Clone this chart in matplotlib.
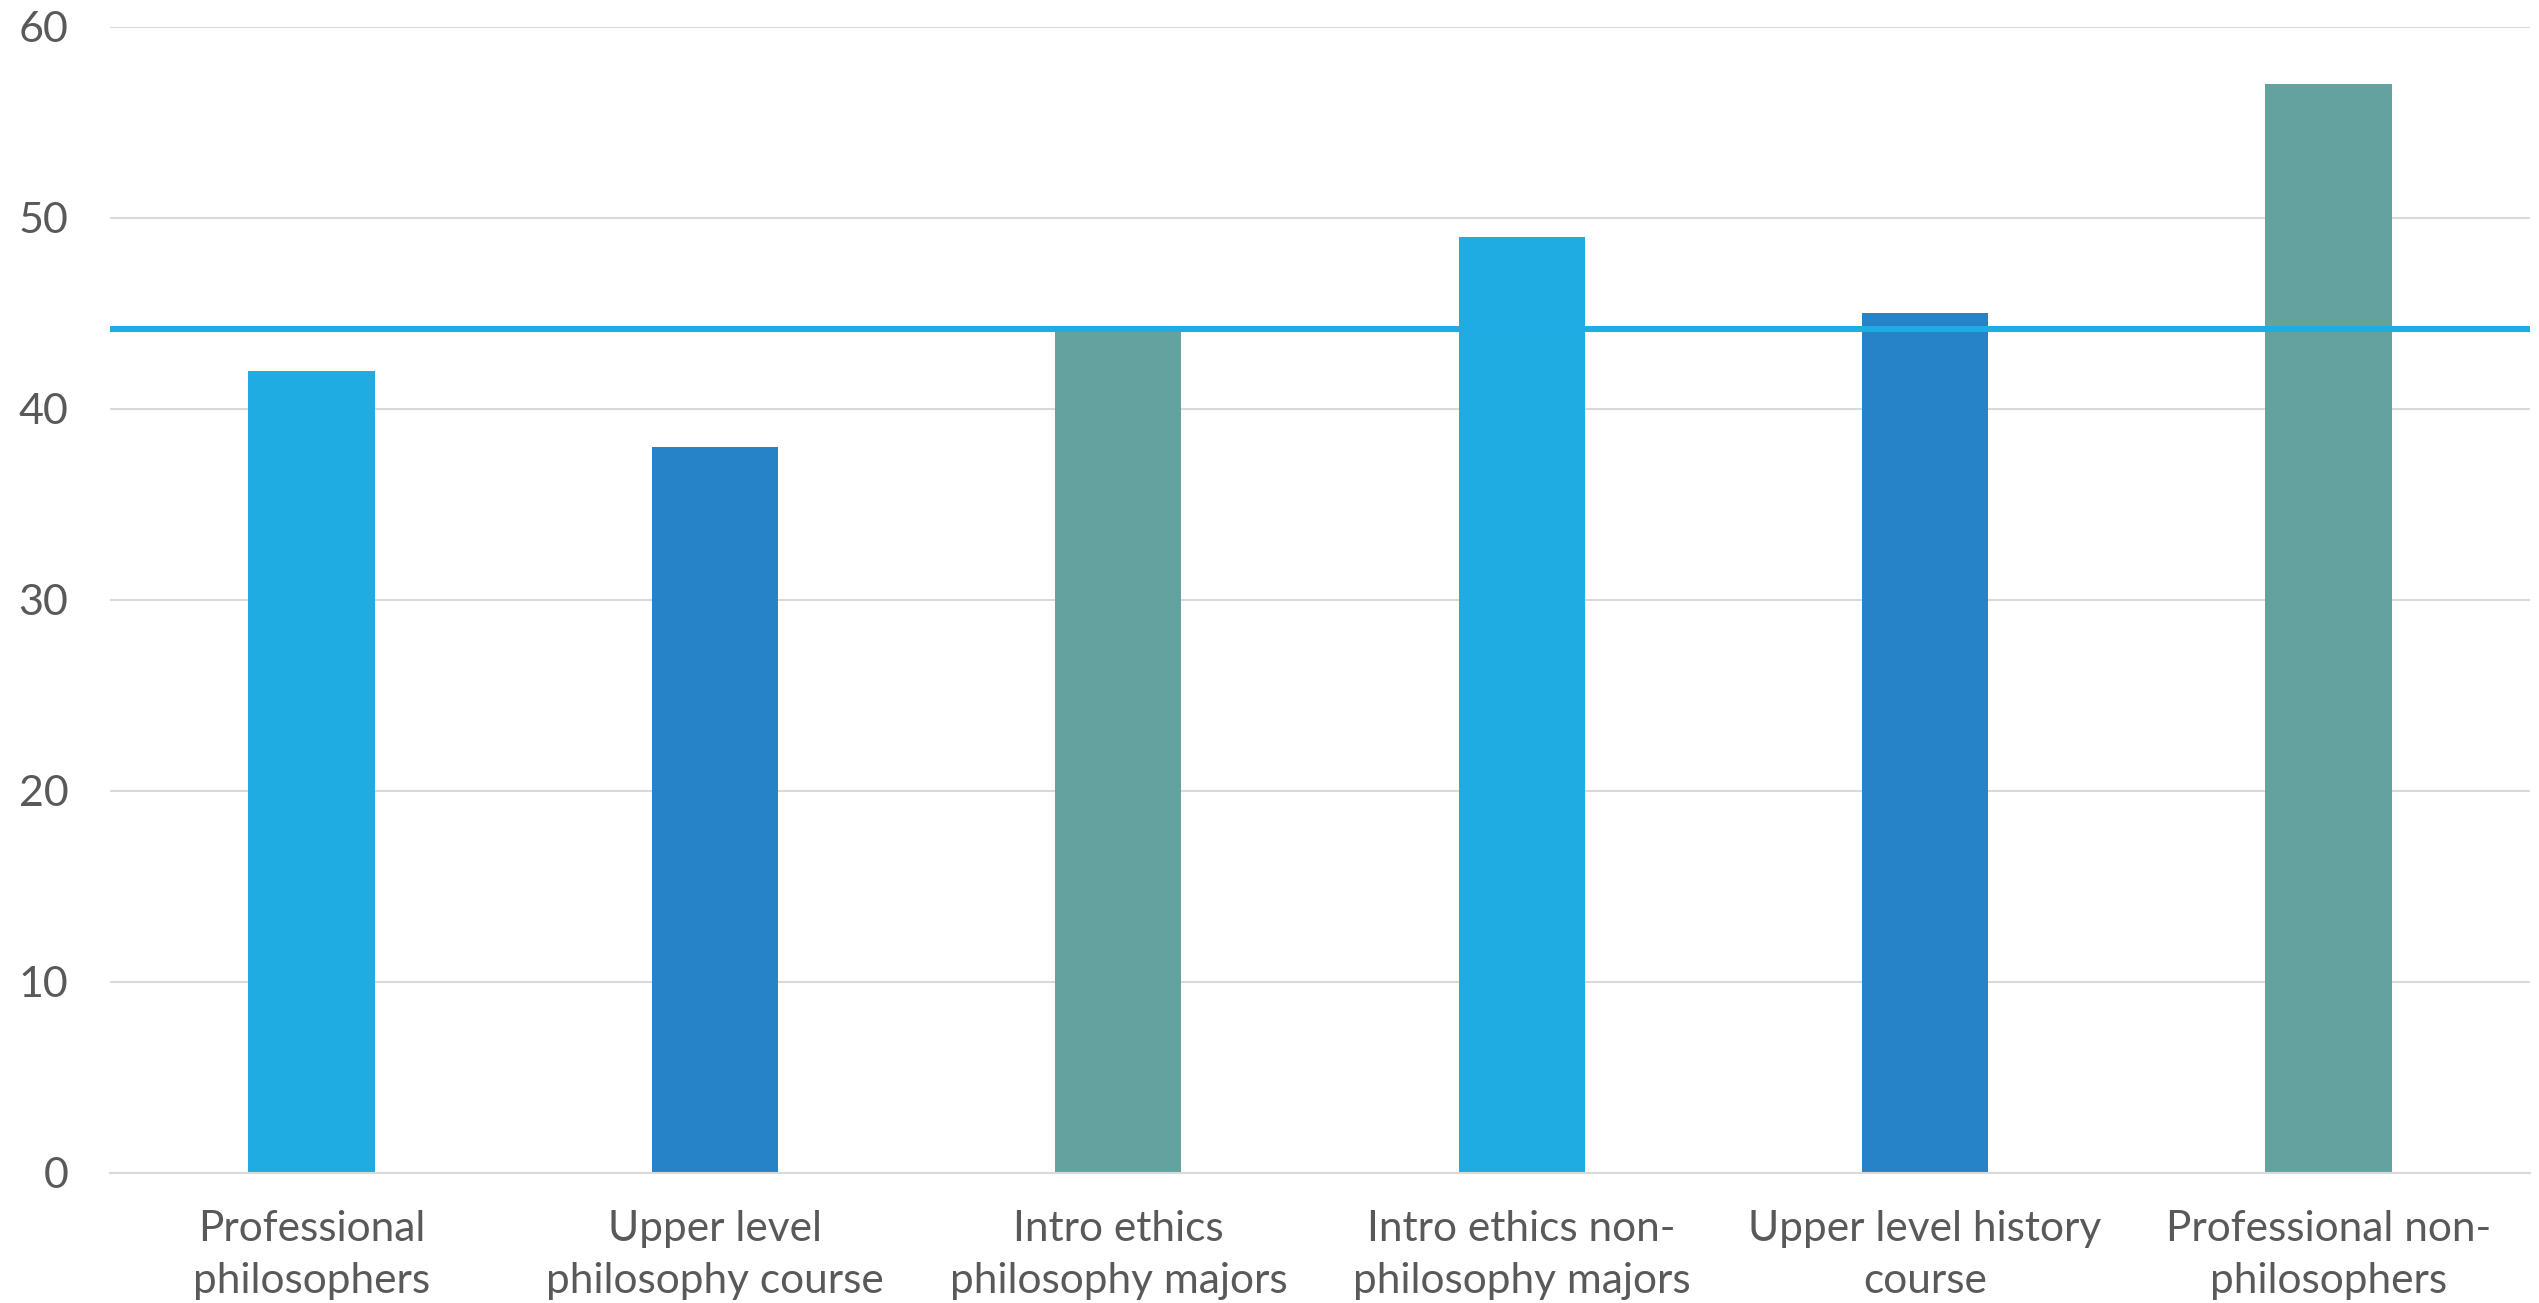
import numpy as np
import matplotlib.pyplot as plt

groups = ["Professional\nphilosophers", "Upper level\nphilosophy course",
          "Intro ethics\nphilosophy majors", "Intro ethics non-\nphilosophy majors",
          "Upper level history\ncourse", "Professional non-\nphilosophers"]
scores = [42, 38, 44, 49, 45, 57]
reference_level = 44.15
colors = ["#1FACE3", "#2683C6", "#62A39F", "#1FACE3", "#2683C6", "#62A39F"]

plt.rcParams['font.family'] = ['Lato', 'DejaVu Sans']

fig = plt.figure(figsize=(25.39, 13.03), dpi=100)
ax = fig.add_axes([0.0433, 0.1, 0.9532, 0.8795])

x = np.arange(len(groups))
ax.bar(x, scores, width=0.313, color=colors, zorder=2)
ax.axhline(reference_level, color="#1CADE4", lw=4.3, zorder=3)

ax.set_xlim(-0.5, len(groups) - 0.5)
ax.set_ylim(0, 60)
ax.set_yticks(range(0, 61, 10))
ax.yaxis.grid(True, color="#D9D9D9", lw=1.5, zorder=0)
ax.set_axisbelow(True)
for s in ["top", "right", "left"]:
    ax.spines[s].set_visible(False)
ax.spines["bottom"].set_color("#D9D9D9")
ax.spines["bottom"].set_linewidth(1.5)

ax.set_xticks(x)
ax.set_xticklabels(groups, fontsize=30.5, color="#595959", linespacing=1.45)
ax.tick_params(axis="x", length=0, pad=27)
ax.tick_params(axis="y", length=0, pad=30, labelsize=31, labelcolor="#595959")

fig.savefig("out.png", dpi=100)
